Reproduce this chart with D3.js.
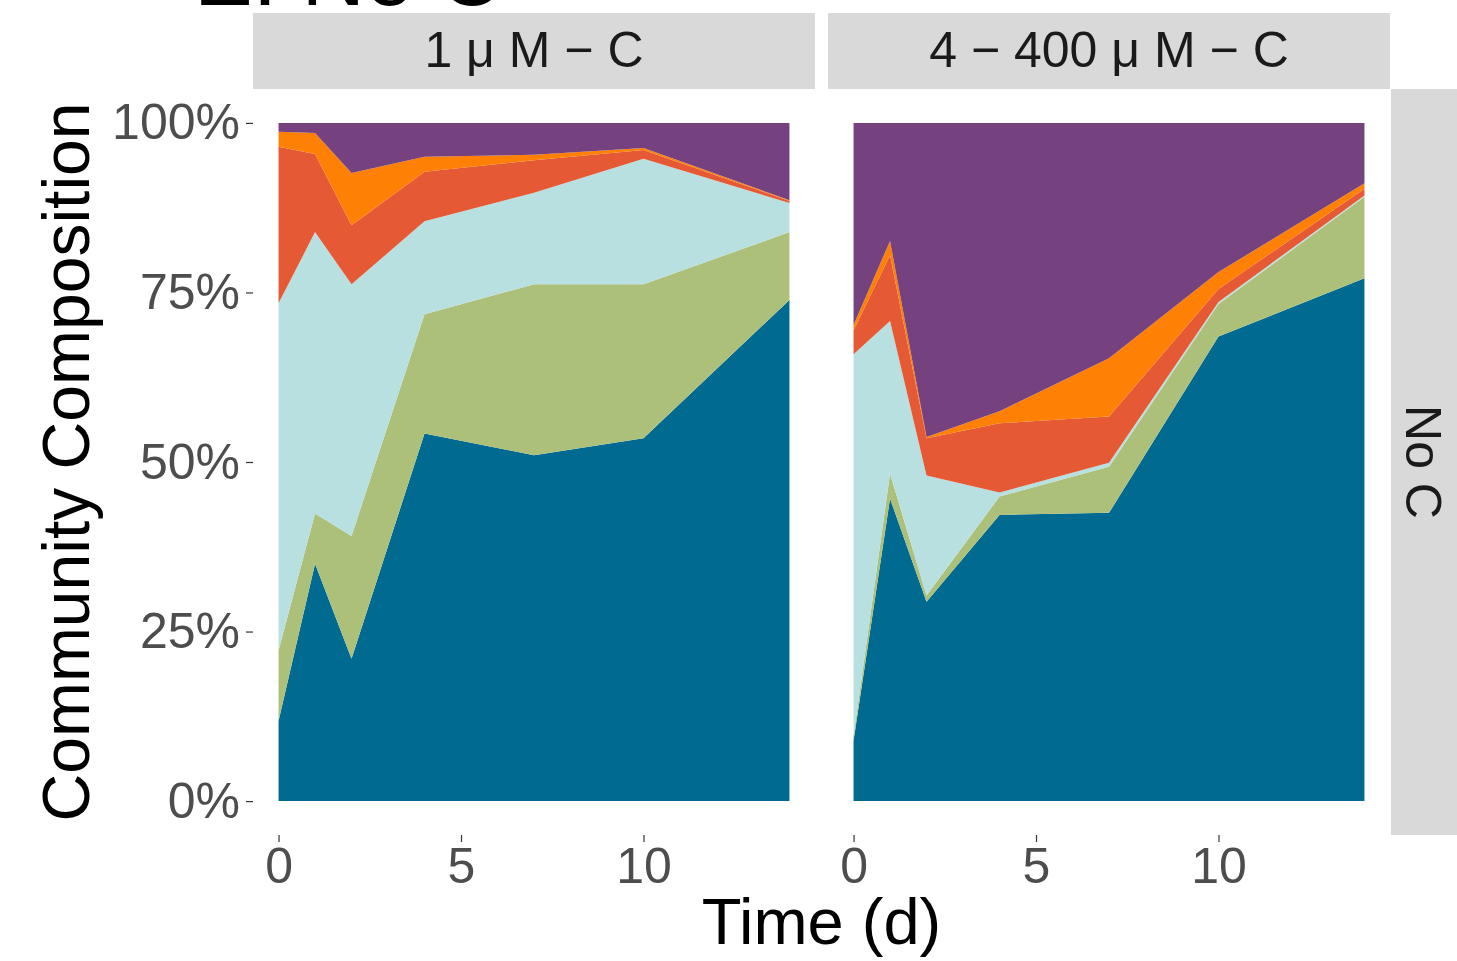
<!DOCTYPE html>
<html>
<head>
<meta charset="utf-8">
<script src="https://cdn.jsdelivr.net/npm/d3@7"></script>
<style>
  body { margin: 0; background: #fff; }
  text { font-family: "Liberation Sans", Arial, Helvetica, sans-serif; }
</style>
</head>
<body>
<script>
// time points (days)
const days = [0, 1, 2, 4, 7, 10, 14]
const facetLabels = ["1 \u03bc M \u2212 C", "4 \u2212 400 \u03bc M \u2212 C"]
const rowLabel = "No C"
const yTicks = [0, 0.25, 0.5, 0.75, 1]
const xTicks = [0, 5, 10]

// stacking order, bottom to top
const taxa = ["taxonA", "taxonB", "taxonC", "taxonD", "taxonE", "taxonF"]
const colors = ["#016a91", "#adc07a", "#b9e0e1", "#e55a35", "#fe8005", "#76417f"]

// 1 uM-C, percentage of community per taxon
const low_taxonA = [11.8, 35.0, 21.0, 54.2, 51.0, 53.5, 73.9]
const low_taxonB = [10.4, 7.4, 18.1, 17.6, 25.2, 22.7, 10.0]
const low_taxonC = [51.2, 41.5, 37.1, 13.7, 13.5, 18.5, 4.3]
const low_taxonD = [23.1, 11.5, 8.7, 7.3, 4.8, 1.3, 0.3]
const low_taxonE = [2.2, 3.1, 7.7, 2.2, 0.8, 0.3, 0.1]
const low_taxonF = [1.3, 1.5, 7.4, 5.0, 4.7, 3.7, 11.4]

// 4-400 uM-C
const high_taxonA = [8.9, 44.6, 29.4, 42.2, 42.5, 68.5, 77.1]
const high_taxonB = [0.7, 3.7, 0.9, 2.7, 6.8, 4.8, 12.0]
const high_taxonC = [56.3, 22.5, 17.7, 0.6, 0.6, 0.3, 0.2]
const high_taxonD = [3.5, 9.7, 5.5, 10.2, 6.8, 1.9, 1.0]
const high_taxonE = [0.8, 2.1, 0.2, 1.8, 8.6, 2.5, 0.8]
const high_taxonF = [29.8, 17.4, 46.3, 42.5, 34.7, 22.0, 8.9]

function toRows(series) {
	return days.map((d, i) => {
		let row = { day: d }
		taxa.forEach((t, k) => { row[t] = series[k][i] / 100 })
		return row
	})
}

const facets = [
	toRows([low_taxonA, low_taxonB, low_taxonC, low_taxonD, low_taxonE, low_taxonF]),
	toRows([high_taxonA, high_taxonB, high_taxonC, high_taxonD, high_taxonE, high_taxonF])
]

const W = 1457, H = 961
const panelX = [[253, 815], [828, 1390]]
const panelTop = 89, panelBottom = 835

const svg = d3.select("body").append("svg")
	.attr("width", W)
	.attr("height", H)

// cut-off title at the very top
svg.append("text")
	.attr("x", 194)
	.attr("y", 5)
	.attr("font-size", 88)
	.attr("fill", "#000")
	.text("E. No C")

const y = d3.scaleLinear().domain([-0.05, 1.05]).range([panelBottom, panelTop])
const stack = d3.stack().keys(taxa)

facets.forEach((rows, p) => {
	const x = d3.scaleLinear().domain([-0.7, 14.7]).range(panelX[p])

	// strip
	svg.append("rect")
		.attr("x", panelX[p][0])
		.attr("y", 13)
		.attr("width", panelX[p][1] - panelX[p][0])
		.attr("height", 76)
		.attr("fill", "#d9d9d9")
	svg.append("text")
		.attr("x", (panelX[p][0] + panelX[p][1]) / 2)
		.attr("y", 67)
		.attr("text-anchor", "middle")
		.attr("font-size", 50)
		.attr("fill", "#1a1a1a")
		.text(facetLabels[p])

	const area = d3.area()
		.x(d => x(d.data.day))
		.y0(d => y(d[0]))
		.y1(d => y(d[1]))

	svg.append("g")
		.selectAll("path")
		.data(stack(rows))
		.join("path")
		.attr("d", area)
		.attr("fill", (d, i) => colors[i])

	// x axis
	const gx = svg.append("g")
		.attr("transform", "translate(0," + panelBottom + ")")
		.call(d3.axisBottom(x).tickValues(xTicks).tickSize(7).tickPadding(5))
	gx.select(".domain").remove()
	gx.selectAll("line").attr("stroke", "#333333").attr("stroke-width", 1.2)
	gx.selectAll("text").attr("font-size", 50).attr("fill", "#4d4d4d")
		.attr("font-family", "Liberation Sans, Arial, sans-serif")

	if (p == 0) {
		const gy = svg.append("g")
			.attr("transform", "translate(" + panelX[0][0] + ",0)")
			.call(d3.axisLeft(y).tickValues(yTicks).tickFormat(d3.format(".0%")).tickSize(7).tickPadding(6))
		gy.select(".domain").remove()
		gy.selectAll("line").attr("stroke", "#333333").attr("stroke-width", 1.2)
		gy.selectAll("text").attr("font-size", 50).attr("fill", "#4d4d4d")
			.attr("font-family", "Liberation Sans, Arial, sans-serif")
	}
})

// right strip
svg.append("rect")
	.attr("x", 1391)
	.attr("y", panelTop)
	.attr("width", 66)
	.attr("height", panelBottom - panelTop)
	.attr("fill", "#d9d9d9")
svg.append("text")
	.attr("transform", "translate(1406," + (panelTop + panelBottom) / 2 + ") rotate(90)")
	.attr("text-anchor", "middle")
	.attr("font-size", 50)
	.attr("fill", "#1a1a1a")
	.text(rowLabel)

// axis titles
svg.append("text")
	.attr("transform", "translate(89," + (panelTop + panelBottom) / 2 + ") rotate(-90)")
	.attr("text-anchor", "middle")
	.attr("font-size", 66)
	.attr("fill", "#000")
	.text("Community Composition")

svg.append("text")
	.attr("x", (panelX[0][0] + panelX[1][1]) / 2)
	.attr("y", 944)
	.attr("text-anchor", "middle")
	.attr("font-size", 65)
	.attr("fill", "#000")
	.text("Time (d)")
</script>
</body>
</html>
